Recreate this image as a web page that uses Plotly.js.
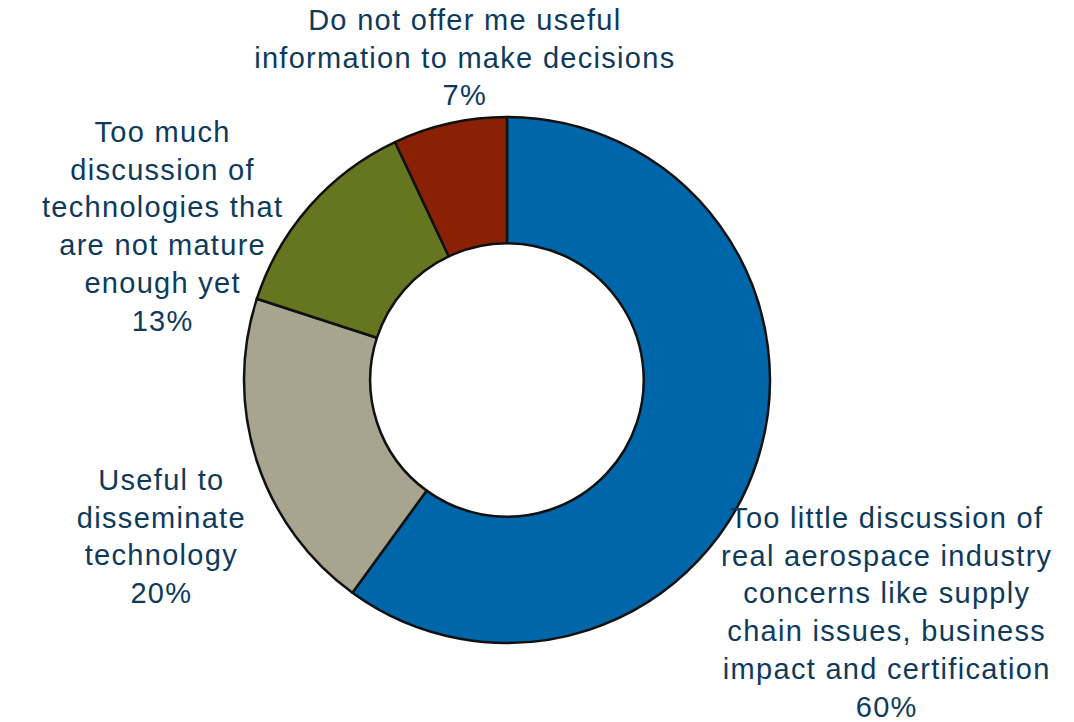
<!DOCTYPE html>
<html>
<head>
<meta charset="utf-8">
<script src="https://cdn.plot.ly/plotly-3.0.1.min.js"></script>
<style>
html,body{margin:0;padding:0;background:#fff;}
#chart{width:1074px;height:722px;}
#chart .annotation-text{letter-spacing:1.3px;}
</style>
</head>
<body>
<div id="chart"></div>
<script>
const labels = [
  "Too little discussion of<br>real aerospace industry<br>concerns like supply<br>chain issues, business<br>impact and certification",
  "Useful to<br>disseminate<br>technology",
  "Too much<br>discussion of<br>technologies that<br>are not mature<br>enough yet",
  "Do not offer me useful<br>information to make decisions"
];
const values = [60, 20, 13, 7];
const colors = ["#0066aa", "#a7a590", "#66751f", "#8a2004"];

// label anchor positions (paper coords, layout only)
const labelPos = [
  {x: 0.826, y: 0.1515},
  {x: 0.150, y: 0.2576},
  {x: 0.151, y: 0.6863},
  {x: 0.433, y: 0.9204}
];

const annotations = labels.map((l, i) => ({
  text: l + "<br>" + values[i] + "%",
  xref: "paper", yref: "paper",
  x: labelPos[i].x, y: labelPos[i].y,
  xanchor: "center", yanchor: "middle",
  align: "center", showarrow: false,
  font: {family: "Liberation Sans, Arial, sans-serif", size: 29, color: "#0e3a5c"}
}));

const data = [{
  type: "pie",
  labels: labels,
  values: values,
  hole: 0.52,
  sort: false,
  direction: "clockwise",
  rotation: 0,
  marker: {colors: colors, line: {color: "#111", width: 2.5}},
  textinfo: "none",
  hoverinfo: "label+percent",
  showlegend: false,
  domain: {x: [0.2272, 0.7169], y: [0.1094, 0.838]}
}];

const layout = {
  width: 1074, height: 722,
  margin: {l: 0, r: 0, t: 0, b: 0},
  paper_bgcolor: "#ffffff",
  showlegend: false,
  annotations: annotations
};

Plotly.newPlot("chart", data, layout, {displayModeBar: false, staticPlot: true});
</script>
</body>
</html>
